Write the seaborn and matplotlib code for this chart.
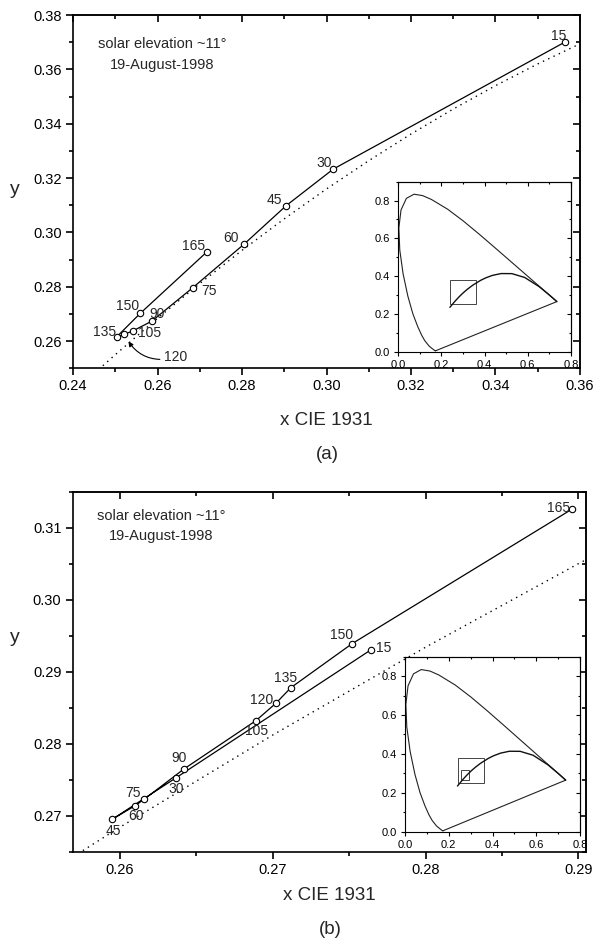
import numpy as np
import pandas as pd
import matplotlib
matplotlib.use("Agg")
import matplotlib.pyplot as plt
from matplotlib.ticker import MultipleLocator, FormatStrFormatter
from matplotlib.patches import Rectangle
import seaborn as sns

sns.set_theme(style="ticks")
plt.rcParams["font.family"] = ["Liberation Sans", "DejaVu Sans"]

# Viewing azimuth (degrees) of each sky measurement, in acquisition order
azimuth = [15, 30, 45, 60, 75, 90, 105, 120, 135, 150, 165]

# Panel (a): chromaticity of the sky along the almucantar
a_x = [0.3565, 0.3016, 0.2905, 0.2805, 0.2683, 0.2586, 0.2541, 0.2521, 0.2503, 0.2559, 0.2716]
a_y = [0.3701, 0.3233, 0.3099, 0.2957, 0.2796, 0.2673, 0.2637, 0.2625, 0.2615, 0.2702, 0.2927]

# Panel (b): chromaticity along the second scan
b_x = [0.2764, 0.2637, 0.2595, 0.2610, 0.2616, 0.2642, 0.2689, 0.2702, 0.2712, 0.2752, 0.2896]
b_y = [0.2930, 0.2753, 0.2695, 0.2714, 0.2723, 0.2765, 0.2832, 0.2856, 0.2878, 0.2939, 0.3126]

# CIE daylight locus
daylight_x = [0.245, 0.25, 0.26, 0.27, 0.28, 0.29, 0.30, 0.31, 0.32, 0.33, 0.34, 0.35, 0.36]
daylight_y = [0.2481, 0.2550, 0.2684, 0.2812, 0.2934, 0.3050, 0.3160, 0.3264, 0.3362, 0.3454, 0.3540, 0.3620, 0.3694]

# CIE 1931 spectral locus (380-700 nm)
locus_x = [0.1741, 0.1738, 0.1733, 0.1726, 0.1714, 0.1689, 0.1644, 0.1566, 0.1440, 0.1241,
           0.1096, 0.0913, 0.0687, 0.0454, 0.0235, 0.0082, 0.0039, 0.0139, 0.0389, 0.0743,
           0.1142, 0.1547, 0.2296, 0.3016, 0.3731, 0.4441, 0.5125, 0.5752, 0.6270, 0.6658,
           0.6915, 0.7079, 0.7190, 0.7260, 0.7300, 0.7334, 0.7347]
locus_y = [0.0050, 0.0049, 0.0048, 0.0048, 0.0051, 0.0069, 0.0109, 0.0177, 0.0297, 0.0578,
           0.0868, 0.1327, 0.2007, 0.2950, 0.4127, 0.5384, 0.6548, 0.7502, 0.8120, 0.8338,
           0.8262, 0.8059, 0.7543, 0.6923, 0.6245, 0.5547, 0.4866, 0.4242, 0.3725, 0.3340,
           0.3083, 0.2920, 0.2809, 0.2740, 0.2700, 0.2666, 0.2653]

# Planckian (black-body) locus
planck_x = [0.7347, 0.7200, 0.7000, 0.6528, 0.5857, 0.5267, 0.4770, 0.4369, 0.4053,
            0.3805, 0.3451, 0.3221, 0.3064, 0.2952, 0.2807, 0.2637, 0.2565, 0.2399]
planck_y = [0.2653, 0.2800, 0.3000, 0.3444, 0.3931, 0.4133, 0.4137, 0.4041, 0.3907,
            0.3768, 0.3516, 0.3318, 0.3166, 0.3048, 0.2884, 0.2674, 0.2577, 0.2348]

A_XLIM, A_YLIM = (0.24, 0.36), (0.25, 0.38)
B_XLIM, B_YLIM = (0.2569, 0.2905), (0.265, 0.315)

# label offsets (pixels) relative to each point
a_offsets = {15: (-7, 6), 30: (-9, 6), 45: (-12, 6), 60: (-13, 6), 75: (16, -3),
             90: (5, 7), 105: (17, -2), 135: (-12, 5), 150: (-13, 7), 165: (-13, 6)}
b_offsets = {15: (13, 2), 30: (0, -11), 45: (1, -12), 60: (1, -10), 75: (-11, 6),
             90: (-5, 11), 105: (1, -10), 120: (-14, 3), 135: (-5, 10), 150: (-11, 9),
             165: (-14, 1)}

W, H = 595, 943
fig = plt.figure(figsize=(W / 100, H / 100), dpi=100)


def px_axes(left, top, right, bottom):
    return fig.add_axes([left / W, 1 - bottom / H, (right - left) / W, (bottom - top) / H])


ax_a = px_axes(73, 15, 580, 368.3)
ax_b = px_axes(72.5, 491.7, 586, 851.7)
ins_a = px_axes(398, 181.7, 571, 351.7)
ins_b = px_axes(405, 656.7, 580, 831.7)


def frame(ax, xlim, ylim, xmaj, xmin, ymaj, ymin, xfmt, yfmt, size, lmaj, lmin, lw):
    ax.set_xlim(*xlim)
    ax.set_ylim(*ylim)
    ax.set_facecolor("white")
    for s in ax.spines.values():
        s.set_linewidth(lw)
        s.set_color("black")
        s.set_visible(True)
    ax.xaxis.set_major_locator(MultipleLocator(xmaj))
    ax.xaxis.set_minor_locator(MultipleLocator(xmin))
    ax.yaxis.set_major_locator(MultipleLocator(ymaj))
    ax.yaxis.set_minor_locator(MultipleLocator(ymin))
    ax.xaxis.set_major_formatter(FormatStrFormatter(xfmt))
    ax.yaxis.set_major_formatter(FormatStrFormatter(yfmt))
    ax.tick_params(which="both", direction="out", top=False, right=False,
                   labelsize=size, width=lw, colors="black", pad=3)
    ax.tick_params(which="major", length=lmaj)
    ax.tick_params(which="minor", length=lmin)
    # mirrored ticks pointing inward on the top and right sides
    top = ax.secondary_xaxis("top")
    top.xaxis.set_major_locator(MultipleLocator(xmaj))
    top.xaxis.set_minor_locator(MultipleLocator(xmin))
    top.tick_params(which="both", direction="in", labeltop=False, width=lw, colors="black")
    top.tick_params(which="major", length=lmaj)
    top.tick_params(which="minor", length=lmin)
    top.spines["top"].set_linewidth(lw)
    right = ax.secondary_yaxis("right")
    right.yaxis.set_major_locator(MultipleLocator(ymaj))
    right.yaxis.set_minor_locator(MultipleLocator(ymin))
    right.tick_params(which="both", direction="in", labelright=False, width=lw, colors="black")
    right.tick_params(which="major", length=lmaj)
    right.tick_params(which="minor", length=lmin)
    right.spines["right"].set_linewidth(lw)
    ax.grid(False)


def draw_panel(ax, xs, ys, offsets):
    day = pd.DataFrame({"x": daylight_x, "y": daylight_y})
    sns.lineplot(data=day, x="x", y="y", sort=False, estimator=None, color="black",
                 lw=1.0, linestyle=(0, (1, 3.2)), ax=ax, legend=False)
    df = pd.DataFrame({"x": xs, "y": ys, "azimuth": azimuth})
    sns.lineplot(data=df, x="x", y="y", sort=False, estimator=None, color="black",
                 lw=0.9, marker="o", markersize=4.6, markerfacecolor="white",
                 markeredgecolor="black", markeredgewidth=0.8, ax=ax, legend=False)
    for az, x, y in zip(azimuth, xs, ys):
        if az in offsets:
            ax.annotate(str(az), (x, y), xytext=offsets[az], textcoords="offset pixels",
                        ha="center", va="center", fontsize=10)
    ax.set_xlabel("")
    ax.set_ylabel("")


def draw_inset(ins, boxes):
    frame(ins, (0.0, 0.8), (0.0, 0.9), 0.2, 0.1, 0.2, 0.1, "%.1f", "%.1f", 8, 3, 1.6, 0.8)
    sns.lineplot(x=locus_x + [locus_x[0]], y=locus_y + [locus_y[0]], sort=False,
                 estimator=None, color="#222222", lw=0.8, ax=ins)
    sns.lineplot(x=planck_x, y=planck_y, sort=False, estimator=None,
                 color="#111111", lw=1.0, ax=ins)
    for (x0, x1), (y0, y1) in boxes:
        ins.add_patch(Rectangle((x0, y0), x1 - x0, y1 - y0, fill=False,
                                lw=0.7, ec="#444444"))
    ins.set_xlabel("")
    ins.set_ylabel("")


# ---- panel (a)
frame(ax_a, A_XLIM, A_YLIM, 0.02, 0.01, 0.02, 0.01, "%.2f", "%.2f", 10.5, 5, 2.8, 1.2)
draw_panel(ax_a, a_x, a_y, a_offsets)
i120 = azimuth.index(120)
ax_a.annotate("120", (a_x[i120], a_y[i120]), xytext=(52, -23), textcoords="offset pixels",
              ha="center", va="center", fontsize=10,
              arrowprops=dict(arrowstyle="-|>", color="black", lw=0.8, mutation_scale=7,
                              shrinkA=1, shrinkB=6, connectionstyle="arc3,rad=-0.4"))
ax_a.text(0.1755, 0.918, "solar elevation ~11°", transform=ax_a.transAxes,
          ha="center", va="center", fontsize=10.5)
ax_a.text(0.1755, 0.858, "19-August-1998", transform=ax_a.transAxes,
          ha="center", va="center", fontsize=10.5)
ax_a.set_xlabel("x CIE 1931", fontsize=13.5)
ax_a.xaxis.label.set_va("center")
ax_a.xaxis.set_label_coords(0.5, (368.3 - 421) / 353.3)
ax_a.set_ylabel("y", fontsize=14, rotation=0)
ax_a.yaxis.label.set_va("center")
ax_a.yaxis.label.set_ha("center")
ax_a.yaxis.set_label_coords((15 - 73) / 507, (368.3 - 190) / 353.3)
fig.text(327 / W, 1 - 455 / H, "(a)", ha="center", va="center", fontsize=13.5)

draw_inset(ins_a, [(A_XLIM, A_YLIM)])

# ---- panel (b)
frame(ax_b, B_XLIM, B_YLIM, 0.01, 0.005, 0.01, 0.005, "%.2f", "%.2f", 10.5, 5, 2.8, 1.2)
draw_panel(ax_b, b_x, b_y, b_offsets)
ax_b.text(0.172, 0.9325, "solar elevation ~11°", transform=ax_b.transAxes,
          ha="center", va="center", fontsize=10.5)
ax_b.text(0.172, 0.876, "19-August-1998", transform=ax_b.transAxes,
          ha="center", va="center", fontsize=10.5)
ax_b.set_xlabel("x CIE 1931", fontsize=13.5)
ax_b.xaxis.label.set_va("center")
ax_b.xaxis.set_label_coords(0.5, (851.7 - 896) / 360)
ax_b.set_ylabel("y", fontsize=14, rotation=0)
ax_b.yaxis.label.set_va("center")
ax_b.yaxis.label.set_ha("center")
ax_b.yaxis.set_label_coords((15 - 72.5) / 513.5, (851.7 - 638) / 360)
fig.text(330 / W, 1 - 929 / H, "(b)", ha="center", va="center", fontsize=13.5)

draw_inset(ins_b, [(A_XLIM, A_YLIM), (B_XLIM, B_YLIM)])

fig.savefig("out.png", dpi=100, facecolor="white")
